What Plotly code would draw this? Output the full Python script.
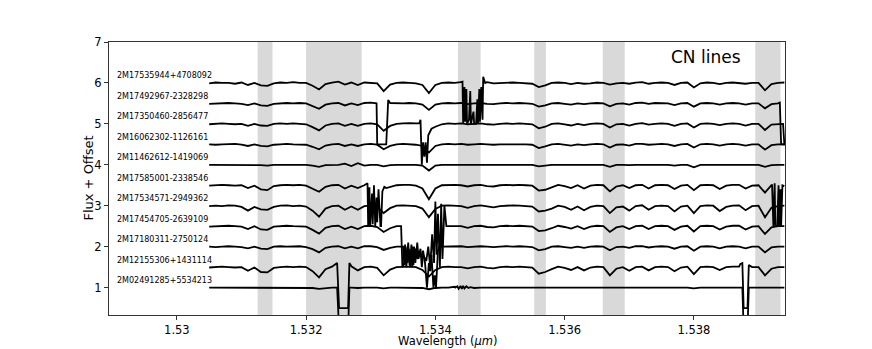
import numpy as np
import plotly.graph_objects as go

# wavelength sampling of the spectra (micron)
wl_start = 1.5305
wl_step = 0.0001

stars = ["2M17535944+4708092", "2M17492967-2328298", "2M17350460-2856477",
         "2M16062302-1126161", "2M11462612-1419069", "2M17585001-2338546",
         "2M17534571-2949362", "2M17454705-2639109", "2M17180311-2750124",
         "2M12155306+1431114", "2M02491285+5534213"]
offsets = [5.0, 4.5, 4.0, 3.5, 3.0, 2.5, 2.0, 1.5, 1.0, 0.5, 0.0]

# normalised flux x 100, one value per sample
flux_2M17535944 = [99, 101, 100, 100, 98, 101, 95, 100, 94, 93,
                   99, 101, 100, 102, 100, 100, 93, 84, 97, 101,
                   103, 96, 101, 95, 101, 100, 99, 80, 96, 100,
                   101, 100, 99, 95, 75, 95, 100, 101, 100, 101,
                   100, 100, 100, 100, 99, 100, 100, 101, 100, 99,
                   98, 90, 94, 100, 101, 100, 97, 100, 98, 99,
                   101, 100, 96, 99, 100, 98, 101, 102, 98, 100,
                   101, 100, 95, 100, 101, 89, 99, 101, 100, 97,
                   100, 101, 100, 98, 100, 100, 82, 97, 100, 101]
flux_2M17492967 = [99, 100, 100, 101, 100, 99, 96, 100, 95, 94,
                   99, 100, 101, 100, 101, 100, 94, 87, 97, 100,
                   101, 95, 100, 96, 101, 102, 101, 100, 100, 100,
                   100, 101, 100, 97, 84, 97, 100, 101, 100, 101,
                   98, 100, 101, 99, 98, 100, 101, 100, 101, 100,
                   99, 92, 95, 100, 101, 99, 97, 100, 98, 100,
                   101, 100, 93, 99, 100, 97, 101, 102, 99, 101,
                   101, 100, 96, 100, 101, 92, 100, 101, 100, 97,
                   100, 101, 100, 97, 100, 100, 88, 98, 100, 100]
flux_2M17350460 = [99, 100, 101, 100, 99, 100, 95, 100, 96, 95,
                   100, 101, 100, 101, 100, 99, 92, 84, 96, 100,
                   101, 95, 100, 95, 100, 101, 99, 83, 95, 100,
                   101, 102, 101, 100, 100, 93, 99, 101, 100, 101,
                   99, 100, 101, 99, 98, 100, 101, 100, 101, 100,
                   99, 89, 93, 100, 101, 99, 96, 100, 97, 100,
                   101, 100, 91, 99, 100, 96, 100, 102, 98, 100,
                   101, 100, 95, 100, 101, 91, 100, 101, 100, 97,
                   100, 101, 100, 96, 100, 100, 85, 98, 100, 100]
flux_2M16062302 = [100, 99, 100, 100, 101, 99, 96, 100, 96, 95,
                   99, 100, 101, 100, 100, 99, 94, 88, 97, 100,
                   101, 96, 100, 96, 100, 101, 99, 88, 96, 100,
                   101, 100, 99, 96, 80, 96, 100, 101, 100, 101,
                   99, 100, 101, 100, 99, 100, 100, 101, 100, 100,
                   99, 91, 95, 100, 101, 99, 97, 100, 98, 100,
                   101, 100, 92, 99, 100, 97, 101, 101, 99, 100,
                   101, 100, 96, 100, 101, 92, 100, 101, 100, 97,
                   100, 101, 100, 97, 100, 100, 87, 98, 100, 100]
flux_2M11462612 = [100, 100, 100, 100, 100, 100, 99, 100, 99, 98,
                   100, 100, 100, 100, 100, 100, 98, 95, 99, 100,
                   100, 103, 97, 104, 98, 100, 100, 96, 99, 100,
                   100, 100, 100, 98, 86, 98, 100, 100, 100, 100,
                   100, 100, 100, 100, 100, 100, 100, 100, 100, 100,
                   100, 96, 98, 100, 100, 100, 99, 100, 99, 100,
                   100, 100, 95, 100, 100, 99, 100, 100, 100, 100,
                   100, 100, 98, 100, 100, 94, 100, 100, 100, 99,
                   100, 100, 100, 99, 100, 100, 95, 99, 100, 100]
flux_2M17585001 = [99, 100, 101, 100, 99, 100, 93, 99, 90, 88,
                   98, 100, 101, 100, 101, 99, 92, 84, 96, 100,
                   101, 92, 99, 93, 100, 100, 100, 100, 96, 100,
                   101, 101, 99, 92, 66, 92, 100, 101, 101, 100,
                   97, 100, 101, 98, 97, 100, 101, 100, 101, 100,
                   99, 87, 89, 95, 101, 98, 93, 100, 92, 99,
                   101, 100, 85, 97, 100, 93, 100, 101, 92, 100,
                   101, 100, 91, 99, 101, 88, 100, 101, 100, 91,
                   99, 101, 101, 92, 99, 100, 82, 100, 100, 100]
flux_2M17534571 = [99, 100, 99, 101, 100, 97, 88, 97, 91, 90,
                   97, 100, 101, 99, 100, 98, 88, 73, 93, 99,
                   100, 90, 98, 90, 99, 100, 97, 82, 94, 100,
                   101, 100, 99, 93, 72, 92, 100, 101, 100, 99,
                   95, 99, 101, 98, 96, 99, 100, 101, 100, 99,
                   98, 86, 88, 93, 100, 97, 90, 98, 89, 97,
                   100, 99, 82, 96, 98, 88, 99, 101, 90, 99,
                   100, 99, 86, 98, 100, 82, 99, 101, 100, 87,
                   97, 100, 101, 89, 99, 100, 72, 95, 99, 100]
flux_2M17454705 = [99, 100, 100, 101, 100, 99, 93, 100, 92, 91,
                   99, 100, 101, 100, 100, 99, 91, 82, 96, 100,
                   101, 93, 99, 93, 100, 101, 98, 86, 95, 100,
                   100, 100, 100, 100, 100, 100, 100, 100, 101, 100,
                   96, 100, 101, 98, 97, 100, 101, 100, 101, 100,
                   99, 88, 90, 95, 101, 98, 94, 100, 93, 99,
                   101, 100, 86, 97, 100, 93, 100, 101, 93, 100,
                   101, 100, 91, 99, 101, 87, 100, 101, 100, 92,
                   99, 101, 101, 92, 99, 100, 81, 97, 100, 100]
flux_2M17180311 = [100, 99, 100, 101, 100, 99, 96, 100, 95, 94,
                   100, 101, 100, 100, 101, 99, 94, 86, 97, 100,
                   101, 96, 100, 96, 101, 101, 99, 92, 97, 100,
                   100, 101, 100, 100, 100, 100, 100, 101, 100, 101,
                   99, 100, 101, 100, 99, 100, 101, 100, 101, 100,
                   99, 91, 94, 100, 101, 99, 97, 100, 97, 100,
                   101, 100, 91, 99, 100, 97, 101, 101, 98, 100,
                   101, 100, 95, 100, 101, 90, 100, 101, 100, 96,
                   100, 101, 100, 96, 100, 100, 86, 98, 100, 100]
flux_2M12155306 = [99, 100, 101, 100, 99, 100, 91, 99, 88, 87,
                   98, 100, 101, 100, 101, 100, 90, 75, 95, 101,
                   104, 101, 100, 92, 100, 101, 98, 80, 94, 100,
                   101, 101, 100, 93, 77, 93, 100, 101, 100, 100,
                   97, 100, 101, 98, 97, 100, 101, 100, 101, 100,
                   99, 84, 88, 95, 101, 98, 93, 100, 92, 99,
                   101, 100, 80, 96, 100, 91, 100, 101, 92, 100,
                   101, 100, 90, 99, 101, 83, 100, 101, 100, 93,
                   100, 101, 101, 100, 100, 100, 80, 96, 100, 100]
flux_2M02491285 = [100, 100, 100, 100, 100, 100, 99, 100, 99, 99,
                   100, 100, 100, 100, 100, 100, 99, 97, 99, 100,
                   100, 100, 100, 99, 100, 100, 100, 98, 100, 100,
                   100, 100, 100, 99, 96, 99, 100, 100, 102, 98,
                   103, 99, 100, 100, 100, 100, 100, 100, 100, 100,
                   100, 99, 99, 100, 100, 100, 100, 100, 100, 100,
                   100, 100, 99, 100, 100, 100, 100, 100, 100, 100,
                   100, 100, 100, 100, 100, 98, 100, 100, 100, 100,
                   100, 100, 100, 100, 100, 100, 99, 100, 100, 100]

# dropouts / bad pixels, sampled finer: (wavelength, flux)
bad_2M17535944 = [[(1.53439, 1.02), (1.53442, 1.03), (1.53443, 0.0), (1.53445, 0.9),
                   (1.53446, 0.05), (1.53448, 0.85), (1.53449, 0.0), (1.53452, 0.1),
                   (1.53454, 0.8), (1.53455, 0.0), (1.53459, 0.3), (1.53460, 0.0),
                   (1.53463, 0.0), (1.53465, 0.6), (1.53466, 0.0), (1.53468, 0.85),
                   (1.53469, 0.05), (1.53471, 0.9), (1.53473, 0.1), (1.53474, 1.15),
                   (1.53477, 1.0), (1.53480, 1.02)]]
bad_2M17492967 = [[(1.53309, 1.0), (1.53310, 0.0), (1.53324, 0.0), (1.53326, 1.03),
                   (1.53327, 1.08), (1.53330, 1.01)],
                  [(1.53933, 1.02), (1.53935, 0.0), (1.53941, 0.0)]]
bad_2M17350460 = [[(1.53375, 1.01), (1.53377, 1.10), (1.53379, 0.0), (1.53381, 0.55),
                   (1.53383, 0.2), (1.53385, 0.55), (1.53387, 0.05), (1.53389, 0.72),
                   (1.53391, 0.80), (1.53394, 0.88)],
                  [(1.53938, 1.0), (1.53940, 0.5), (1.53943, 0.5)]]
bad_2M16062302 = []
bad_2M11462612 = []
bad_2M17585001 = [[(1.53293, 1.02), (1.53295, 1.05), (1.53296, 0.0), (1.53298, 0.95),
                   (1.53299, 0.0), (1.53302, 0.8), (1.53303, 0.05), (1.53305, 1.0),
                   (1.53307, 0.0), (1.53309, 0.7), (1.53310, 0.1), (1.53312, 0.9),
                   (1.53315, 0.0), (1.53316, 0.0), (1.53318, 0.85), (1.53321, 0.96),
                   (1.53324, 0.93)],
                  [(1.53920, 1.0), (1.53921, 1.0), (1.53923, 0.0), (1.53925, 1.05),
                   (1.53926, 0.0), (1.53929, 0.0), (1.53931, 1.0), (1.53932, 0.0),
                   (1.53934, 0.9), (1.53935, 0.0), (1.53937, 1.0), (1.53940, 0.98)]]
bad_2M17534571 = []
bad_2M17454705 = [[(1.53347, 1.0), (1.53349, 0.0), (1.53352, 0.1), (1.53353, 0.55),
                   (1.53355, 0.0), (1.53358, 0.6), (1.53360, 0.05), (1.53363, 0.55),
                   (1.53364, 0.0), (1.53367, 0.5), (1.53369, 0.1), (1.53372, 0.6),
                   (1.53374, 0.2), (1.53377, 0.45), (1.53379, 0.0), (1.53381, 0.3),
                   (1.53386, 0.15), (1.53389, 0.5), (1.53392, 0.0), (1.53395, 0.8),
                   (1.53398, 0.1), (1.53400, 1.6), (1.53402, 0.3), (1.53404, 1.3),
                   (1.53407, 0.0), (1.53409, 1.55), (1.53411, 0.2), (1.53414, 1.5),
                   (1.53417, 1.0), (1.53420, 1.0)]]
bad_2M17180311 = [[(1.53350, 1.0), (1.53352, 0.55), (1.53354, 1.0), (1.53357, 0.6),
                   (1.53359, 0.95), (1.53361, 0.5), (1.53364, 1.0), (1.53366, 0.55),
                   (1.53369, 0.95), (1.53372, 0.7), (1.53375, 0.9), (1.53378, 0.75),
                   (1.53381, 0.9), (1.53384, 0.6), (1.53387, 0.0), (1.53390, 0.6),
                   (1.53392, 0.4), (1.53394, 0.8), (1.53397, 0.0), (1.53399, 0.3),
                   (1.53401, 0.0), (1.53404, 0.9), (1.53406, 1.0), (1.53408, 1.0)]]
bad_2M12155306 = [[(1.53245, 1.07), (1.53248, 1.1), (1.53251, 0.0), (1.53265, 0.0),
                   (1.53267, 1.1), (1.53270, 1.02)],
                  [(1.53872, 1.08), (1.53875, 1.1), (1.53877, 0.0), (1.53883, 0.0),
                   (1.53885, 1.05), (1.53889, 1.0)]]
bad_2M02491285 = [[(1.53248, 1.0), (1.53251, 0.0), (1.53265, 0.0), (1.53267, 1.0)],
                  [(1.53431, 1.0), (1.53434, 1.03), (1.53436, 0.97), (1.53439, 1.04),
                   (1.53441, 0.97), (1.53443, 1.04), (1.53445, 0.98), (1.53448, 1.03),
                   (1.53451, 0.99), (1.53454, 1.01)],
                  [(1.53875, 1.0), (1.53877, 0.0), (1.53883, 0.0), (1.53885, 1.0)]]

fluxes = [flux_2M17535944, flux_2M17492967, flux_2M17350460, flux_2M16062302,
          flux_2M11462612, flux_2M17585001, flux_2M17534571, flux_2M17454705,
          flux_2M17180311, flux_2M12155306, flux_2M02491285]
bads = [bad_2M17535944, bad_2M17492967, bad_2M17350460, bad_2M16062302,
        bad_2M11462612, bad_2M17585001, bad_2M17534571, bad_2M17454705,
        bad_2M17180311, bad_2M12155306, bad_2M02491285]

# CN line windows (micron)
cn_lo = [1.53125, 1.53200, 1.53435, 1.53553, 1.53659, 1.53895]
cn_hi = [1.53148, 1.53286, 1.53470, 1.53571, 1.53693, 1.53934]


def spectrum(flux, bad):
    wl = np.round(wl_start + wl_step * np.arange(len(flux)), 5)
    pts = list(zip(wl, np.array(flux) / 100.0))
    for seg in bad:
        lo, hi = seg[0][0], seg[-1][0]
        pts = [p for p in pts if not (lo - 1e-9 <= p[0] <= hi + 1e-9)] + list(seg)
    pts.sort(key=lambda p: p[0])
    return [p[0] for p in pts], [p[1] for p in pts]


fig = go.Figure()

for lo, hi in zip(cn_lo, cn_hi):
    fig.add_vrect(x0=lo, x1=hi, fillcolor="#d9d9d9", line_width=0, layer="below")

for name, off, flux, bad in zip(stars, offsets, fluxes, bads):
    x, y = spectrum(flux, bad)
    fig.add_trace(go.Scatter(x=x, y=np.array(y) + off, mode="lines",
                             line=dict(color="black", width=1.8),
                             showlegend=False, hoverinfo="skip"))
    fig.add_annotation(x=1.52905, y=off + 1.17, text=name, showarrow=False,
                       xanchor="left", yanchor="middle",
                       font=dict(size=8, color="black"))

fig.add_annotation(x=1.53819, y=6.64, text="CN lines", showarrow=False,
                   xanchor="center", yanchor="middle",
                   font=dict(size=17, color="black"))

# axis titles
fig.add_annotation(x=0.5, y=-0.096, xref="paper", yref="paper",
                   text="Wavelength (<i>μm</i>)", showarrow=False,
                   xanchor="center", yanchor="middle", font=dict(size=11.5))
fig.add_annotation(x=-0.031, y=0.5, xref="paper", yref="paper",
                   text="Flux + Offset", showarrow=False, textangle=-90,
                   xanchor="center", yanchor="middle", font=dict(size=13))

axis_style = dict(showline=True, mirror=True, linecolor="#333333", linewidth=1,
                  ticks="outside", ticklen=4, tickcolor="#333333",
                  showgrid=False, zeroline=False)

fig.update_xaxes(range=[1.52895, 1.53941],
                 tickvals=[1.530, 1.532, 1.534, 1.536, 1.538],
                 ticktext=["1.53", "1.532", "1.534", "1.536", "1.538"],
                 **axis_style)
fig.update_yaxes(range=[0.33, 7], tickvals=[1, 2, 3, 4, 5, 6, 7], **axis_style)

# the page body adds an 8 px margin, so the figure is sized to sit inside it
fig.update_layout(width=864, height=341,
                  margin=dict(l=101, r=87, t=34, b=32),
                  plot_bgcolor="white", paper_bgcolor="white",
                  font=dict(family="DejaVu Sans", size=11.5, color="black"))

fig.write_html("out.html")
